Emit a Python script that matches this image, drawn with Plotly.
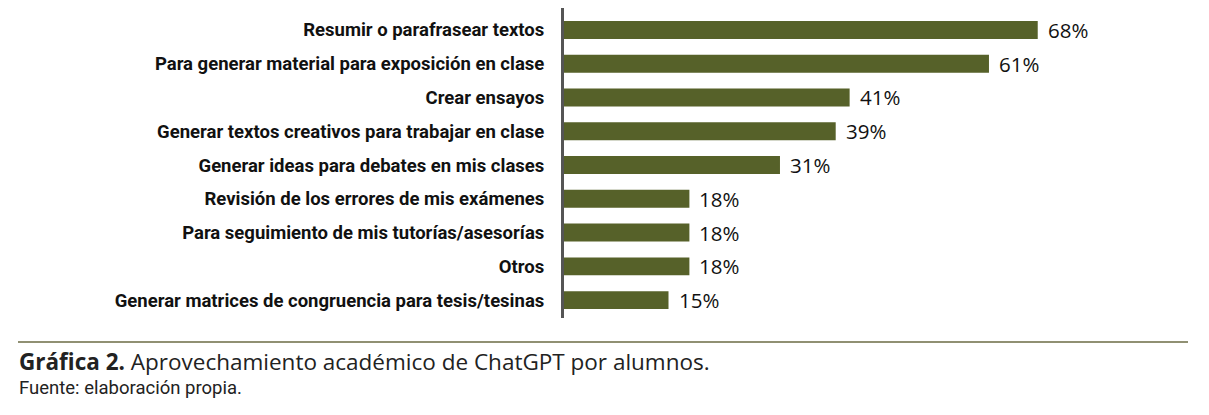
import plotly.graph_objects as go

categories = [
    "Resumir o parafrasear textos",
    "Para generar material para exposición en clase",
    "Crear ensayos",
    "Generar textos creativos para trabajar en clase",
    "Generar ideas para debates en mis clases",
    "Revisión de los errores de mis exámenes",
    "Para seguimiento de mis tutorías/asesorías",
    "Otros",
    "Generar matrices de congruencia para tesis/tesinas",
]
values = [68, 61, 41, 39, 31, 18, 18, 18, 15]
value_labels = [f"{v}%" for v in values]

# page body has an 8px margin, so the figure is offset by 8px
OFF = 8
W, H = 1209 - OFF, 415 - OFF
plot_left, plot_right = 564 - OFF, 1191 - OFF
plot_top, plot_bottom = 8 - OFF, 318 - OFF
ph = plot_bottom - plot_top
pw = plot_right - plot_left

def py(y):
    return (plot_bottom - (y - OFF)) / ph

def px(x):
    return ((x - OFF) - plot_left) / pw

fig = go.Figure(go.Bar(
    x=values, y=categories, orientation="h",
    marker=dict(color="#566129", line=dict(width=0)),
    width=0.53,
))

for c, v, t in zip(categories, values, value_labels):
    fig.add_annotation(x=v, y=c, text=t, showarrow=False, xanchor="left",
                       xshift=8, font=dict(family="Open Sans", size=20.5, color="#111"))

fig.add_shape(type="line", xref="paper", yref="paper",
              x0=px(18), x1=px(1188), y0=py(342), y1=py(342),
              line=dict(color="#6b6b45", width=1.5))

fig.add_annotation(xref="paper", yref="paper", x=px(17), y=py(361),
                   xanchor="left", yanchor="middle", showarrow=False,
                   text="<b>Gráfica 2.</b> Aprovechamiento académico de ChatGPT por alumnos.",
                   font=dict(family="Open Sans", size=22.5, color="#222"))
fig.add_annotation(xref="paper", yref="paper", x=px(17), y=py(388),
                   xanchor="left", yanchor="middle", showarrow=False,
                   text="Fuente: elaboración propia.",
                   font=dict(family="Roboto", size=18.5, color="#222"))

fig.update_layout(
    width=W, height=H,
    margin=dict(l=plot_left, r=W - plot_right, t=plot_top, b=H - plot_bottom),
    plot_bgcolor="white", paper_bgcolor="white",
    showlegend=False,
    xaxis=dict(range=[0, 90], visible=False),
    yaxis=dict(range=[8.53, -0.65], showline=True, linecolor="#555555", linewidth=3,
               showgrid=False, zeroline=False, ticks="", ticklabelstandoff=13,
               tickfont=dict(family="Roboto", size=18.5, color="#111", weight="bold")),
)

fig.write_html("out.html")
